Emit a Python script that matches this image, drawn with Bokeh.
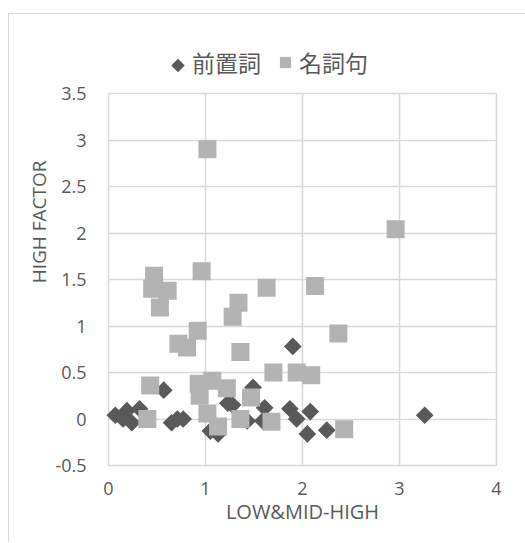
import numpy as np
from bokeh.plotting import figure
from bokeh.models import (ColumnDataSource, Legend, LegendItem, Title,
                          FixedTicker, Range1d, Grid)
from bokeh.embed import file_html
from bokeh.resources import INLINE

# ---- data ----
series_names = ["前置詞", "名詞句"]

prep_x = [0.07, 0.15, 0.19, 0.24, 0.32, 0.57, 0.65, 0.71, 0.77, 1.05, 1.13,
          1.23, 1.28, 1.43, 1.49, 1.59, 1.61, 1.87, 1.90, 1.94, 2.08, 2.05,
          2.25, 3.26]
prep_y = [0.04, 0.00, 0.09, -0.04, 0.11, 0.31, -0.04, 0.00, 0.00, -0.13, -0.16,
          0.17, 0.15, -0.02, 0.34, -0.02, 0.12, 0.11, 0.78, 0.00, 0.08, -0.16,
          -0.12, 0.04]

noun_x = [1.02, 2.96, 0.47, 0.45, 0.61, 0.53, 0.96, 1.34, 1.28, 1.63, 2.13,
          1.36, 2.37, 0.92, 0.72, 0.81, 1.70, 1.94, 2.09, 0.43, 0.93, 1.07,
          0.94, 1.22, 1.47, 0.40, 1.02, 1.13, 1.36, 1.68, 2.43]
noun_y = [2.90, 2.04, 1.54, 1.40, 1.38, 1.20, 1.59, 1.25, 1.10, 1.41, 1.43,
          0.72, 0.92, 0.95, 0.81, 0.77, 0.50, 0.50, 0.47, 0.36, 0.38, 0.41,
          0.25, 0.33, 0.23, 0.00, 0.06, -0.08, 0.00, -0.03, -0.11]

x_ticks = [0, 1, 2, 3, 4]
x_tick_labels = ["0", "1", "2", "3", "4"]
y_ticks = [-0.5, 0, 0.5, 1, 1.5, 2, 2.5, 3, 3.5]
y_tick_labels = ["-0.5", "0", "0.5", "1", "1.5", "2", "2.5", "3", "3.5"]

x_title = "LOW&MID-HIGH"
y_title = "HIGH FACTOR"

TEXT = "#595959"
GRID = "#d9d9d9"
DARK = "#595959"
LIGHT = "#b3b3b3"
FONT = "Open Sans"

# ---- layout (pixels) ----
OX, OY = 9, 14            # canvas offset inside the page (outer chart border)
W, H = 517, 529
PX_X, PX_Y = 97.0, 93.0   # pixels per data unit
PAD = 3                   # keep edge grid lines fully visible
FRAME_TOP = 20            # page y of frame top (room for the legend)
PLOT_TOP = 93             # page y of y = 3.5
PLOT_LEFT = 108.5         # page x of x = 0
YTITLE_TOP = 160          # page y where the y-axis title ends
LEG_LEFT, LEG_BOTTOM = 164, 79
LEG_GLYPH = 28
LEG_CENTER_Y = 65

x0, x1 = x_ticks[0], x_ticks[-1]
y0, y1 = y_ticks[0], y_ticks[-1]
x_start = x0 - PAD / PX_X
x_end = x1 + PAD / PX_X
y_start = y0 - PAD / PX_Y
y_end = y1 + (PLOT_TOP - FRAME_TOP) / PX_Y

frame_left = PLOT_LEFT - PAD - OX
frame_w = (x1 - x0) * PX_X + 2 * PAD
frame_h = (y1 - y0) * PX_Y + PAD + (PLOT_TOP - FRAME_TOP)
mb_left = int(round(frame_left))
mb_top = FRAME_TOP - OY
mb_right = W - mb_left - int(round(frame_w))
mb_bottom = H - mb_top - int(round(frame_h))

p = figure(width=W, height=H, output_backend="svg", toolbar_location=None,
           x_range=Range1d(x_start, x_end), y_range=Range1d(y_start, y_end),
           min_border_left=mb_left, min_border_right=mb_right,
           min_border_top=mb_top, min_border_bottom=mb_bottom,
           margin=(OY - 1, 0, 0, OX - 1),
           styles={"border-left": f"1px solid {GRID}",
                   "border-top": f"1px solid {GRID}"})
p.background_fill_color = "white"
p.border_fill_color = "white"
p.outline_line_color = None

p.xaxis.ticker = FixedTicker(ticks=x_ticks)
p.yaxis.ticker = FixedTicker(ticks=y_ticks)
p.xaxis.major_label_overrides = dict(zip(x_ticks, x_tick_labels))
p.yaxis.major_label_overrides = dict(zip(y_ticks, y_tick_labels))
p.xaxis.axis_label = x_title

for ax in (p.xaxis[0], p.yaxis[0]):
    ax.axis_line_color = None
    ax.major_tick_line_color = None
    ax.minor_tick_line_color = None
    ax.major_tick_in = 0
    ax.major_tick_out = 0
    ax.major_label_text_font = FONT
    ax.major_label_text_font_size = "18px"
    ax.major_label_text_color = TEXT
    ax.axis_label_text_font = FONT
    ax.axis_label_text_font_size = "20px"
    ax.axis_label_text_color = TEXT
    ax.axis_label_text_font_style = "normal"

p.xaxis.major_label_standoff = 16 - PAD
p.xaxis.axis_label_standoff = 0
p.yaxis.major_label_standoff = 22 - PAD

# y-axis title, placed like the reference (above the middle of the axis)
ytitle = Title(text=y_title, align="right", vertical_align="middle",
               offset=YTITLE_TOP - FRAME_TOP, standoff=0,
               text_font=FONT, text_font_size="19px", text_color=TEXT,
               text_font_style="normal")
p.add_layout(ytitle, "left")

# grid lines limited to the plot box
has_cross = "cross_bounds" in Grid.properties()
for g, cb in ((p.xgrid[0], (y0, y1)), (p.ygrid[0], (x0, x1))):
    g.grid_line_color = GRID
    g.grid_line_width = 1.5
    if has_cross:
        g.cross_bounds = cb
    else:
        g.grid_line_color = None
if not has_cross:
    p.segment(x0=x_ticks, x1=x_ticks, y0=[y0] * len(x_ticks), y1=[y1] * len(x_ticks),
              line_color=GRID, line_width=1.5, level="underlay")
    p.segment(x0=[x0] * len(y_ticks), x1=[x1] * len(y_ticks), y0=y_ticks, y1=y_ticks,
              line_color=GRID, line_width=1.5, level="underlay")

src_p = ColumnDataSource(dict(x=prep_x, y=prep_y))
src_n = ColumnDataSource(dict(x=noun_x, y=noun_y))

r_p = p.scatter("x", "y", source=src_p, marker="square", angle=np.pi / 4,
                size=12.5, fill_color=DARK, line_color=None)
r_n = p.scatter("x", "y", source=src_n, marker="square", size=18,
                fill_color=LIGHT, line_color=None)

# legend key for the rotated-square series (legend keys are never rotated)
r_key = p.scatter(x=[], y=[], marker="square", fill_alpha=0, line_alpha=0)
key_x = x0 + (LEG_LEFT + LEG_GLYPH / 2 - PLOT_LEFT) / PX_X
key_y = y1 + (PLOT_TOP - LEG_CENTER_Y) / PX_Y
p.scatter(x=[key_x], y=[key_y], marker="square", angle=np.pi / 4, size=9.5,
          fill_color=DARK, line_color=None)

legend = Legend(items=[LegendItem(label=series_names[0], renderers=[r_key]),
                       LegendItem(label=series_names[1], renderers=[r_n])],
                orientation="horizontal",
                location=(LEG_LEFT - (mb_left + OX),
                          (mb_top + OY + frame_h) - LEG_BOTTOM),
                glyph_width=LEG_GLYPH, glyph_height=LEG_GLYPH,
                label_standoff=0, spacing=10,
                padding=0, margin=0,
                label_text_font="Noto Sans CJK JP", label_text_font_size="23px",
                label_text_color=TEXT,
                border_line_color=None, background_fill_alpha=0)
p.add_layout(legend)

open("out.html", "w").write(file_html(p, INLINE))
